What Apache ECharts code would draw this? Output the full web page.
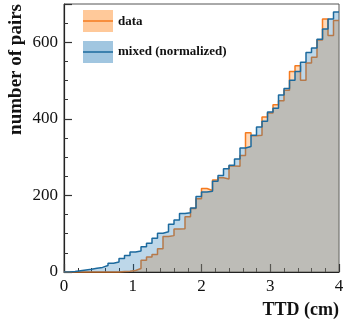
<!DOCTYPE html>
<html>
<head>
<meta charset="utf-8">
<script src="https://cdn.jsdelivr.net/npm/echarts@6/dist/echarts.min.js"></script>
<style>html,body{margin:0;padding:0;background:#fff}#c{width:349px;height:325px}</style>
</head>
<body>
<div id="c"></div>
<script>
// TTD bins: 50 bins of 0.08 cm from 0 to 4 cm
const binStart = 0;
const binWidth = 0.08;
const dataCounts = [0,0,0,0,0,0,0,0,0,0,
  1,2,4,9,31,39,46,61,93,95,
  112,113,144,166,191,218,213,240,246,243,
  277,276,304,364,356,357,405,415,437,447,
  475,524,539,501,546,561,606,661,618,657];
const mixedCounts = [0,1,3,5,7,10,12,17,23,26,
  35,43,52,55,66,75,88,101,105,125,
  136,153,155,167,197,209,211,237,252,270,
  279,295,324,328,357,379,394,418,428,462,
  479,501,524,548,573,585,608,635,661,679];
const xTicks = [0,1,2,3,4];
const yTicks = [0,200,400,600];
const seriesNames = ['data','mixed (normalized)'];

function toSteps(counts){
  const pts = counts.map((c,i)=>[+(binStart+i*binWidth).toFixed(4), c]);
  pts.push([+(binStart+counts.length*binWidth).toFixed(4), counts[counts.length-1]]);
  return pts;
}

const orangeLine = '#f57a1e', orangeFill = 'rgba(255,127,14,0.42)';
const blueLine = '#1c6a9e', blueFill = 'rgba(31,119,180,0.42)';
const serif = 'Liberation Serif';

const chart = echarts.init(document.getElementById('c'), null, {renderer:'canvas'});
chart.setOption({
  animation:false,
  backgroundColor:'#fff',
  grid:{left:64, right:10, top:4, bottom:53, show:true, borderColor:'#555', borderWidth:1},
  xAxis:{type:'value', min:xTicks[0], max:xTicks[xTicks.length-1], interval:1,
    axisLine:{show:true, onZero:false, lineStyle:{color:'#222', width:1.2}},
    axisTick:{show:true, inside:true, length:8, lineStyle:{color:'#333', width:1.2}},
    minorTick:{show:true, splitNumber:5, length:4, lineStyle:{color:'#333', width:1}},
    splitLine:{show:false},
    axisLabel:{fontFamily:serif, fontSize:17, color:'#111', margin:6}
  },
  yAxis:{type:'value', min:0, max:700, interval:200,
    axisLine:{show:true, lineStyle:{color:'#222', width:1.2}},
    axisTick:{show:true, inside:true, length:8, lineStyle:{color:'#333', width:1.2}},
    minorTick:{show:true, splitNumber:4, length:4, lineStyle:{color:'#333', width:1}},
    splitLine:{show:false},
    axisLabel:{fontFamily:serif, fontSize:17, color:'#111', margin:6,
      formatter:(v)=> yTicks.indexOf(v)>=0 ? String(v) : ''}
  },
  series:[
    {name:seriesNames[0], type:'line', step:'end', data:toSteps(dataCounts), symbol:'none',
      lineStyle:{color:orangeLine, width:1.5}, areaStyle:{color:orangeFill}, z:2},
    {name:seriesNames[1], type:'line', step:'end', data:toSteps(mixedCounts), symbol:'none',
      lineStyle:{color:blueLine, width:1.5}, areaStyle:{color:blueFill}, z:3}
  ],
  graphic:[
    {type:'rect', shape:{x:83, y:10, width:30, height:22}, style:{fill:orangeFill}, z:10},
    {type:'line', shape:{x1:83, y1:21, x2:113, y2:21}, style:{stroke:orangeLine, lineWidth:1.5}, z:11},
    {type:'text', x:118, y:22, style:{text:seriesNames[0], font:'bold 13px '+serif, fill:'#111', textVerticalAlign:'middle'}, z:11},
    {type:'rect', shape:{x:83, y:41, width:30, height:22}, style:{fill:blueFill}, z:10},
    {type:'line', shape:{x1:83, y1:52, x2:113, y2:52}, style:{stroke:blueLine, lineWidth:1.5}, z:11},
    {type:'text', x:118, y:52, style:{text:seriesNames[1], font:'bold 13px '+serif, fill:'#111', textVerticalAlign:'middle'}, z:11},
    {type:'text', x:339, y:310, style:{text:'TTD (cm)', font:'bold 18px '+serif, fill:'#111', textAlign:'right', textVerticalAlign:'middle'}, z:11},
    {type:'text', x:16, y:4, rotation:Math.PI/2, style:{text:'number of pairs', font:'bold 19px '+serif, fill:'#111', textAlign:'right', textVerticalAlign:'middle'}, z:11}
  ]
});
</script>
</body>
</html>
